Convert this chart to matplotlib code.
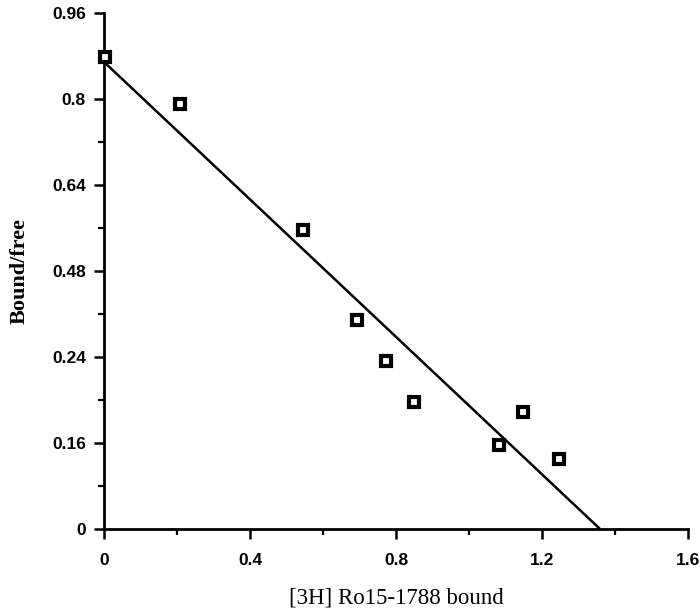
import matplotlib
matplotlib.use("Agg")
import matplotlib.pyplot as plt
import numpy as np

# Scatchard data: bound ligand vs bound/free ratio
bound = [0.003, 0.208, 0.545, 0.693, 0.773, 0.849, 1.082, 1.148, 1.247]
bound_free = [0.878, 0.791, 0.556, 0.389, 0.313, 0.236, 0.156, 0.218, 0.130]

# Regression line: intercepts on each axis
fit_y0 = 0.869
fit_x0 = 1.359

x_ticks = [0, 0.4, 0.8, 1.2, 1.6]
x_tick_labels = ["0", "0.4", "0.8", "1.2", "1.6"]
y_ticks = [0, 0.16, 0.32, 0.48, 0.64, 0.8, 0.96]
y_tick_labels = ["0", "0.16", "0.24", "0.48", "0.64", "0.8", "0.96"]

fig = plt.figure(figsize=(7.0, 6.1), dpi=100)
ax = fig.add_axes([104 / 700, 1 - 529 / 610, (688 - 104) / 700, (529 - 13) / 610])

ax.plot([0, fit_x0], [fit_y0, 0], color="black", lw=1.8, solid_capstyle="butt")
ax.plot(bound, bound_free, linestyle="none", marker="s", ms=7.5, mfc="white",
        mec="black", mew=3.0, zorder=3, clip_on=False)

ax.set_xlim(0, 1.6)
ax.set_ylim(0, 0.96)
for side in ("top", "right"):
    ax.spines[side].set_visible(False)
for side in ("left", "bottom"):
    ax.spines[side].set_linewidth(2.0)

ax.set_xticks(x_ticks)
ax.set_xticklabels(x_tick_labels)
ax.set_xticks(np.arange(0.2, 1.6, 0.4), minor=True)
ax.set_yticks(y_ticks)
ax.set_yticklabels(y_tick_labels)
ax.set_yticks(np.arange(0.08, 0.96, 0.16), minor=True)

ax.tick_params(axis="both", which="major", direction="out", length=7, width=1.8,
               labelsize=12.5, pad=6)
ax.tick_params(axis="x", which="major", pad=10)
ax.tick_params(axis="both", which="minor", direction="out", length=4, width=1.6)
for lab in ax.get_xticklabels() + ax.get_yticklabels():
    lab.set_fontweight("bold")
    lab.set_family(["Liberation Sans", "DejaVu Sans"])

ax.set_xlabel("[3H] Ro15-1788 bound", family=["Liberation Serif", "DejaVu Serif"],
              fontsize=16.5, labelpad=14)
ax.set_ylabel("Bound/free", family=["Liberation Serif", "DejaVu Serif"],
              fontsize=16, fontweight="bold", labelpad=16)

fig.savefig("out.png", dpi=100)
